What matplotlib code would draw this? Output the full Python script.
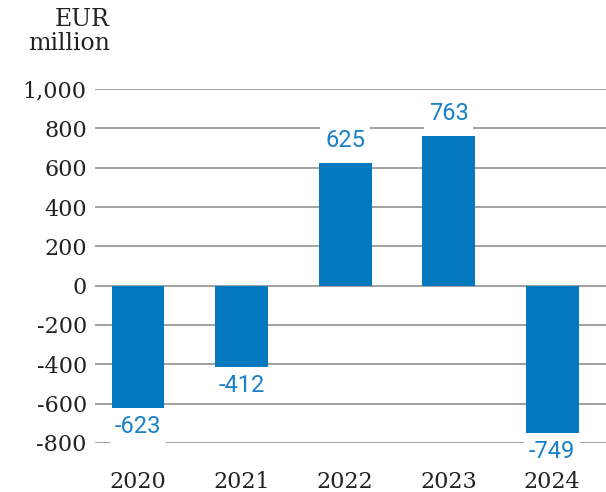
import matplotlib
matplotlib.use('Agg')
import matplotlib.pyplot as plt
from matplotlib.ticker import FuncFormatter

years = ['2020', '2021', '2022', '2023', '2024']
values = [-623, -412, 625, 763, -749]
yticks = [-800, -600, -400, -200, 0, 200, 400, 600, 800, 1000]

bar_color = '#0579c0'
label_color = '#1a80c8'
serif = 'DejaVu Serif'

plt.rcParams['axes.unicode_minus'] = False

fig = plt.figure(figsize=(6.06, 4.92), dpi=100)
ax = fig.add_axes([0.157, 0.0996, 0.843, 0.7195])

x = list(range(len(years)))
ax.bar(x, values, width=0.51, color=bar_color, zorder=2)

for xi, v in zip(x, values):
    if v >= 0:
        ax.annotate(str(v), (xi, v), xytext=(0, 8), textcoords='offset points',
                    ha='center', va='bottom', color=label_color, fontsize=17,
                    family='Roboto', zorder=3,
                    bbox=dict(boxstyle='square,pad=0.2', fc='white', ec='none'))
    else:
        ax.annotate(str(v), (xi, v), xytext=(0, -5), textcoords='offset points',
                    ha='center', va='top', color=label_color, fontsize=17,
                    family='Roboto', zorder=3,
                    bbox=dict(boxstyle='square,pad=0.2', fc='white', ec='none'))

ax.set_xlim(-0.415, 4.52)
ax.set_ylim(-800, 1000)
ax.set_yticks(yticks)
ax.yaxis.set_major_formatter(FuncFormatter(lambda v, p: f'{int(v):,}'))
ax.set_xticks(x)
ax.set_xticklabels(years)

for lab in ax.get_yticklabels() + ax.get_xticklabels():
    lab.set_family(serif)
    lab.set_fontsize(16)
    lab.set_color('#222222')

ax.tick_params(axis='both', length=0)
ax.tick_params(axis='y', pad=6)
ax.tick_params(axis='x', pad=20)
ax.grid(axis='y', color='#9a9a9a', linewidth=1.3, zorder=0)
ax.set_axisbelow(True)
for s in ax.spines.values():
    s.set_visible(False)

fig.text(110 / 606, 1 - 8 / 492, 'EUR\nmillion', ha='right', va='top',
         family=serif, fontsize=17, color='#222222', linespacing=1.05)

fig.savefig('out.png', dpi=100)
